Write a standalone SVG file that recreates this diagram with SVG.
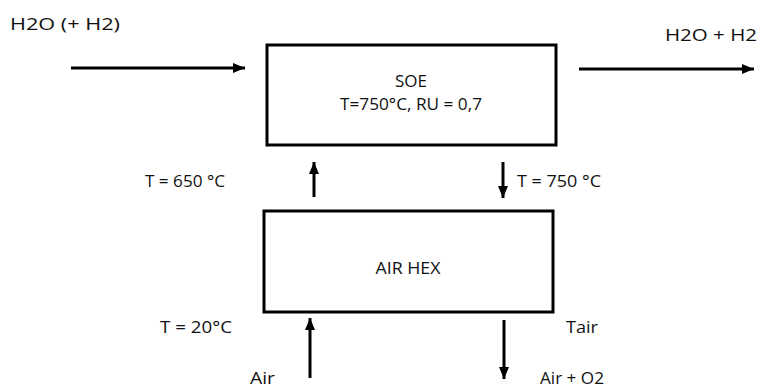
<svg xmlns="http://www.w3.org/2000/svg" width="760" height="389" viewBox="0 0 760 389">
<defs>
<style>
.box{fill:#fff;stroke:#000;stroke-width:3}
.t{font-family:"Open Sans","Liberation Sans",sans-serif;font-size:17px;fill:#111}
.c{text-anchor:middle}
.ln{stroke:#000;stroke-width:3;fill:none;marker-end:url(#ah)}
</style>
<marker id="ah" markerUnits="userSpaceOnUse" markerWidth="14" markerHeight="12" refX="12" refY="6" orient="auto">
<path d="M0,1 L12,6 L0,11 Z" fill="#000"/>
</marker>
</defs>
<rect width="760" height="389" fill="#fff"/>
<g id="soe">
<rect class="box" x="267" y="45" width="289" height="100"/>
<text class="t c" x="411" y="87">SOE</text>
<text class="t c" x="411" y="110" textLength="142" lengthAdjust="spacingAndGlyphs">T=750°C, RU = 0,7</text>
</g>
<g id="airhex">
<rect class="box" x="264" y="211" width="289" height="101"/>
<text class="t c" x="408" y="274" textLength="65" lengthAdjust="spacingAndGlyphs">AIR HEX</text>
</g>
<g id="labels">
<text class="t" x="10" y="30" textLength="110" lengthAdjust="spacingAndGlyphs">H2O (+ H2)</text>
<text class="t" x="665" y="41" textLength="92" lengthAdjust="spacingAndGlyphs">H2O + H2</text>
<text class="t" x="145" y="187" textLength="80" lengthAdjust="spacingAndGlyphs">T = 650 °C</text>
<text class="t" x="517" y="187" textLength="84" lengthAdjust="spacingAndGlyphs">T = 750 °C</text>
<text class="t" x="160" y="333" textLength="72" lengthAdjust="spacingAndGlyphs">T = 20°C</text>
<text class="t" x="566" y="333" textLength="32" lengthAdjust="spacingAndGlyphs">Tair</text>
<text class="t" x="250" y="384" textLength="25" lengthAdjust="spacingAndGlyphs">Air</text>
<text class="t" x="540" y="384" textLength="64" lengthAdjust="spacingAndGlyphs">Air + O2</text>
</g>
<g id="connectors">
<line class="ln" x1="71" y1="68" x2="245" y2="68"/>
<line class="ln" x1="579" y1="69" x2="754" y2="69"/>
<line class="ln" x1="314" y1="197" x2="314" y2="162"/>
<line class="ln" x1="503" y1="162" x2="503" y2="198"/>
<line class="ln" x1="310" y1="378" x2="310" y2="318"/>
<line class="ln" x1="504" y1="320" x2="504" y2="379"/>
</g>
</svg>
